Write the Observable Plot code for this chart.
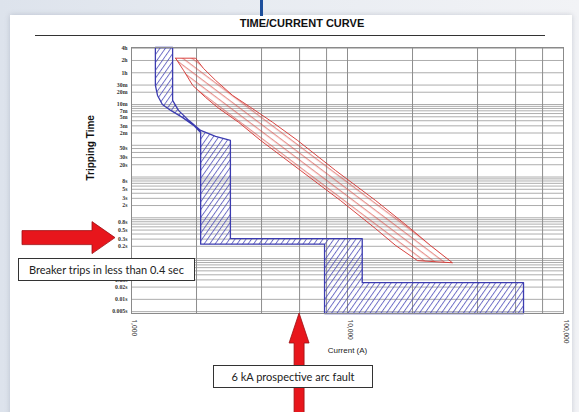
<!DOCTYPE html>
<html><head><meta charset="utf-8">
<script src="https://cdn.jsdelivr.net/npm/d3@7"></script>
<script src="https://cdn.jsdelivr.net/npm/@observablehq/plot@0.6"></script>
<style>
html,body{margin:0;padding:0;}
body{width:579px;height:412px;overflow:hidden;position:relative;background:linear-gradient(90deg,#dde3ec 0%,#e7ebf1 40%,#f2f3f6 100%);font-family:"Liberation Sans",Arial,sans-serif;}
#paper{position:absolute;left:10px;top:15px;width:562px;height:400px;background:#fff;box-shadow:0 0 5px rgba(80,90,110,0.25);}
#bluebar{position:absolute;left:260px;top:0;width:3px;height:16px;background:#1d4f9c;}
#title{position:absolute;left:202px;width:200px;top:17px;text-align:center;font-weight:bold;font-size:11px;color:#111;}
#rule{position:absolute;left:35px;top:35px;width:510px;border-top:1.5px solid #333;}
#chart{position:absolute;left:0;top:0;}
.note{position:absolute;background:#fff;border:1px solid #333;font-family:Lato,"Liberation Sans",sans-serif;font-size:11px;color:#222;text-align:center;box-sizing:border-box;}
#note1{left:18px;top:258px;width:177px;height:23px;line-height:21px;}
#note2{left:213px;top:365px;width:160px;height:23px;line-height:21px;}
</style></head>
<body>
<div id="paper"></div>
<div id="bluebar"></div>
<div id="title">TIME/CURRENT CURVE</div>
<div id="rule"></div>
<div id="chart"></div>
<div class="note" id="note1">Breaker trips in less than 0.4 sec</div>
<div class="note" id="note2">6 kA prospective arc fault</div>
<script>
// Grid values
const xGrid = [1000, 2000, 4000, 6000, 8000, 10000, 20000, 40000, 60000, 80000, 100000];
const yGrid = [14400, 7200, 3600, 1800, 1200, 600, 540, 480, 420, 360, 300, 240, 180, 120, 60, 50, 40, 30, 20, 10, 9, 8, 7, 6, 5, 4, 3, 2, 1, 0.9, 0.8, 0.7, 0.6, 0.5, 0.4, 0.3, 0.2, 0.1, 0.09, 0.08, 0.07, 0.06, 0.05, 0.04, 0.03, 0.02, 0.01, 0.005];
// Tick labels
const yTickValues = [14400, 7200, 3600, 1800, 1200, 600, 420, 300, 180, 120, 50, 30, 20, 8, 5, 3, 2, 0.8, 0.5, 0.3, 0.2, 0.03, 0.02, 0.01, 0.005];
const yTickLabels = ["4h","2h","1h","30m","20m","10m","7m","5m","3m","2m","50s","30s","20s","8s","5s","3s","2s","0.8s","0.5s","0.3s","0.2s","0.03s","0.02s","0.01s","0.005s"];
const xTickValues = [1000, 10000, 100000];
const xTickLabels = ["1,000", "10,000", "100,000"];
// Breaker (blue) trip band outline: current (A), time (s)
const blueCurrent = [1290, 1290, 1320, 1390, 1520, 1720, 1940, 2090, 2090, 7830, 7830, 65300, 65300, 11700, 11700, 2870, 2870, 2450, 2090, 1840, 1650, 1550, 1550, 1290];
const blueTime    = [15000, 1770, 1000, 600, 430, 290, 185, 124, 0.225, 0.225, 0.0045, 0.0045, 0.0256, 0.0256, 0.31, 0.31, 79, 99, 139, 245, 430, 760, 15000, 15000];
// Red damage band: lower-left and upper-right envelopes
const redMinTime    = [8200, 4150, 1770, 900, 510, 220, 79, 14.5, 2.65, 0.54, 0.21, 0.089];
const redMinCurrent = [1600, 1740, 1920, 2200, 2500, 3130, 3960, 6060, 9280, 13500, 16700, 21100];
const redMaxTime    = [8200, 4650, 2350, 1000, 510, 220, 79, 14.5, 2.65, 0.54, 0.21, 0.079];
const redMaxCurrent = [1980, 2150, 2450, 2940, 3560, 4500, 5870, 8800, 13500, 19600, 24200, 30600];
const faultCurrent = 6000;
const tripTime = 0.3;

const bluePoly = blueCurrent.map((c, i) => ({current: c, time: blueTime[i]}));
const redPoly = [
  ...redMinCurrent.map((c, i) => ({current: c, time: redMinTime[i]})),
  ...redMaxCurrent.map((c, i) => ({current: c, time: redMaxTime[i]})).reverse()
];
redPoly.push(redPoly[0]);

const plot = Plot.plot({
  width: 579, height: 412,
  marginLeft: 131, marginRight: 16, marginTop: 47, marginBottom: 99,
  x: {type: "log", domain: [1000, 100000], axis: null},
  y: {type: "log", domain: [0.0045, 15000], axis: null},
  style: {background: "transparent", overflow: "visible"},
  marks: [
    Plot.ruleY(yGrid, {stroke: "#a4a4a4", strokeWidth: 0.9}),
    Plot.ruleX(xGrid, {stroke: "#8e8e8e", strokeWidth: 1}),
    Plot.line(redPoly, {x: "current", y: "time", curve: "linear", fill: "url(#redHatch)", stroke: "#d4302c", strokeWidth: 0.9}),
    Plot.line(bluePoly, {x: "current", y: "time", curve: "linear", fill: "url(#blueHatch)", stroke: "#3c3cb0", strokeWidth: 1.3}),
    Plot.frame({stroke: "#8a8a8a"}),
    Plot.text(yTickValues, {y: d => d, text: (d, i) => yTickLabels[i], frameAnchor: "left", dx: -4, textAnchor: "end", fontSize: 5.8, fontFamily: "Liberation Serif", fontWeight: "bold", fill: "#333"}),
    Plot.text(xTickValues, {x: d => d, text: (d, i) => xTickLabels[i], frameAnchor: "bottom", dy: 6, rotate: 90, textAnchor: "start", fontSize: 6.5, fill: "#333"}),
    Plot.text(["Current (A)"], {frameAnchor: "bottom", dy: 39, fontSize: 8, fill: "#222", fontFamily: "Liberation Sans"}),
    Plot.text(["Tripping Time"], {frameAnchor: "left", dx: -41, rotate: -90, fontSize: 10, fontWeight: "bold", fill: "#111", fontFamily: "Liberation Sans"})
  ]
});

const svg = d3.select(plot);
const defs = svg.insert("defs", ":first-child");
const bp = defs.append("pattern").attr("id", "blueHatch").attr("patternUnits", "userSpaceOnUse")
  .attr("width", 4.5).attr("height", 10).attr("patternTransform", "rotate(35)");
bp.append("line").attr("x1", 0.5).attr("y1", 0).attr("x2", 0.5).attr("y2", 10).attr("stroke", "#4a4ab8").attr("stroke-width", 0.8);
const rp = defs.append("pattern").attr("id", "redHatch").attr("patternUnits", "userSpaceOnUse")
  .attr("width", 10).attr("height", 5.5).attr("patternTransform", "rotate(37)");
rp.append("line").attr("x1", 0).attr("y1", 2.5).attr("x2", 10).attr("y2", 2.5).attr("stroke", "#d8403a").attr("stroke-width", 0.7);

// Annotation arrows, anchored via the chart scales
const sx = plot.scale("x"), sy = plot.scale("y");
const ax = sx.apply(faultCurrent), bottom = 313;
const upArrow = [[ax, bottom], [ax + 10, bottom + 30], [ax + 5, bottom + 30], [ax + 5, 420], [ax - 5, 420], [ax - 5, bottom + 30], [ax - 10, bottom + 30]];
const ty = sy.apply(tripTime) - 1, tx = 131 - 16;
const leftArrow = [[tx, ty], [tx - 23, ty - 16], [tx - 23, ty - 7], [22, ty - 7], [22, ty + 7], [tx - 23, ty + 7], [tx - 23, ty + 16]];
const ann = svg.append("g");
for (const pts of [upArrow, leftArrow]) {
  ann.append("polygon").attr("points", pts.map(p => p.join(",")).join(" "))
    .attr("fill", "#e8161c").attr("stroke", "#9c1014").attr("stroke-width", 0.8);
}
document.getElementById("chart").appendChild(plot);
</script>
</body></html>
